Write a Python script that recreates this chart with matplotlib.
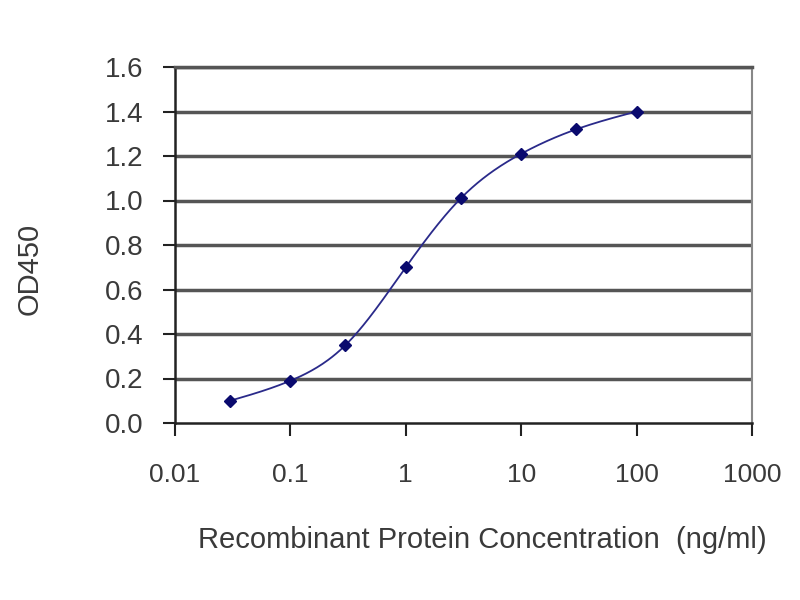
import numpy as np
import matplotlib
matplotlib.use("Agg")
import matplotlib.pyplot as plt
from matplotlib import font_manager

conc = [0.03, 0.1, 0.3, 1, 3, 10, 30, 100]
od450 = [0.10, 0.19, 0.35, 0.70, 1.01, 1.21, 1.32, 1.40]
xticks = [0.01, 0.1, 1, 10, 100, 1000]
xticklabels = ["0.01", "0.1", "1", "10", "100", "1000"]
yticks = [0.0, 0.2, 0.4, 0.6, 0.8, 1.0, 1.2, 1.4, 1.6]

plt.rcParams['font.family'] = ['Liberation Sans', 'DejaVu Sans']
names = {f.name for f in font_manager.fontManager.ttflist}
narrow = 'Liberation Sans Narrow' if 'Liberation Sans Narrow' in names else None
text_color = '#3a3a3a'

def natural_spline(x, y, xs):
    x = np.asarray(x, float); y = np.asarray(y, float)
    n = len(x)
    h = np.diff(x)
    A = np.zeros((n, n)); b = np.zeros(n)
    A[0, 0] = 1; A[-1, -1] = 1
    for i in range(1, n - 1):
        A[i, i - 1] = h[i - 1]
        A[i, i] = 2 * (h[i - 1] + h[i])
        A[i, i + 1] = h[i]
        b[i] = 3 * ((y[i + 1] - y[i]) / h[i] - (y[i] - y[i - 1]) / h[i - 1])
    c = np.linalg.solve(A, b)
    out = np.empty_like(xs)
    for k, xv in enumerate(xs):
        i = min(np.searchsorted(x, xv, side='right') - 1, n - 2)
        i = max(i, 0)
        dx = xv - x[i]
        bi = (y[i + 1] - y[i]) / h[i] - h[i] * (2 * c[i] + c[i + 1]) / 3
        di = (c[i + 1] - c[i]) / (3 * h[i])
        out[k] = y[i] + bi * dx + c[i] * dx ** 2 + di * dx ** 3
    return out

lx = np.log10(conc)
xs = np.linspace(lx[0], lx[-1], 300)
ys = natural_spline(lx, od450, xs)

fig = plt.figure(figsize=(8, 6), dpi=100)
ax = fig.add_axes([175 / 800, 1 - 423 / 600, (752 - 175) / 800, (423 - 67) / 600])
ax.set_xscale('log')
ax.set_xlim(0.01, 1000)
ax.set_ylim(0, 1.6)

for yv in yticks[1:]:
    ax.axhline(yv, color='#555555', lw=2.5, zorder=1)

ax.plot(10 ** xs, ys, color='#2a2a8a', lw=1.3, zorder=3)
ax.plot(conc, od450, linestyle='none', marker='D', ms=6, color='#0a0a6e', zorder=4)

ax.set_xticks(xticks)
ax.set_xticklabels(xticklabels)
ax.xaxis.set_minor_locator(matplotlib.ticker.NullLocator())
ax.set_yticks(yticks)
ax.set_yticklabels([f"{v:.1f}" for v in yticks])

ax.tick_params(axis='both', direction='out', length=9, width=1.5, color='#222222',
               labelcolor=text_color)
if narrow:
    ax.tick_params(axis='x', pad=17, labelsize=23)
    ax.tick_params(axis='y', pad=14, labelsize=23)
    for lab in ax.get_xticklabels() + ax.get_yticklabels():
        lab.set_family([narrow, 'DejaVu Sans'])
    xl_font = dict(family=[narrow, 'DejaVu Sans'], fontsize=25)
else:
    ax.tick_params(axis='x', pad=20, labelsize=19)
    ax.tick_params(axis='y', pad=14, labelsize=20)
    xl_font = dict(fontsize=21)

ax.spines['left'].set_color('#222222'); ax.spines['left'].set_linewidth(1.8)
ax.spines['bottom'].set_color('#222222'); ax.spines['bottom'].set_linewidth(1.8)
ax.spines['right'].set_color('#888888'); ax.spines['right'].set_linewidth(1.5)
ax.spines['top'].set_color('#555555'); ax.spines['top'].set_linewidth(2.5)

fig.text(482 / 800, 1 - 540 / 600, "Recombinant Protein Concentration  (ng/ml)",
         color=text_color, ha='center', va='center', **xl_font)
fig.text(30 / 800, 1 - 269 / 600, "OD450", fontsize=21, color=text_color,
         rotation=90, ha='center', va='center')

fig.savefig("out.png", dpi=100)
